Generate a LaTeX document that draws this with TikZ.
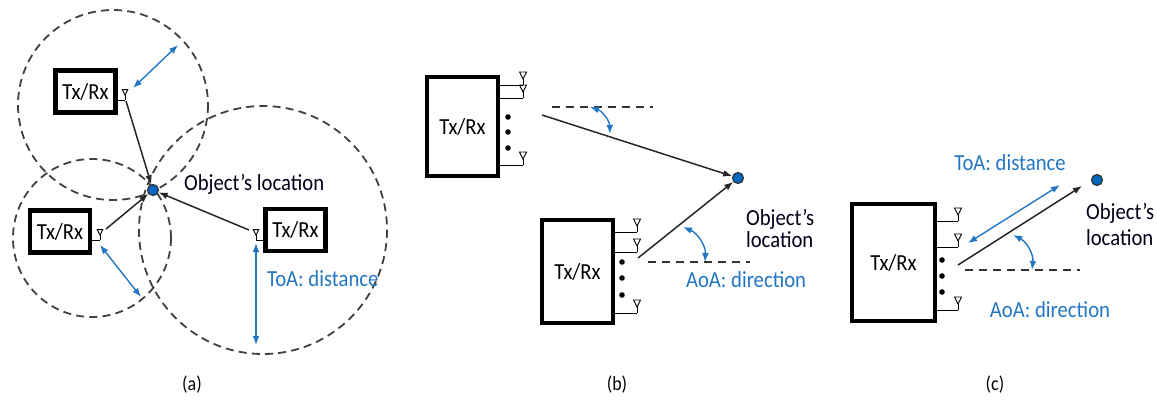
\documentclass[tikz,border=0pt]{standalone}
\usepackage{fontspec}
\setmainfont{Carlito}[FakeStretch=0.9]
\usetikzlibrary{arrows.meta}
\definecolor{locblue}{RGB}{35,118,196}
\definecolor{dotblue}{RGB}{0,104,192}
\tikzset{
  txrx/.style = {draw, line width=2.2pt, inner sep=0pt, font=\fontsize{11.5}{13}\selectfont},
  objdot/.style = {circle, draw=black!80, fill=dotblue, line width=0.6pt, minimum size=5.5pt, inner sep=0pt},
  ring/.style = {draw=black!75, line width=0.9pt, dash pattern=on 4pt off 2.6pt},
  refline/.style = {black!80, line width=0.8pt, dash pattern=on 4pt off 3pt},
  dist/.style = {locblue, line width=0.7pt, <->},
  ray/.style = {black!85, line width=0.75pt, ->},
  bluetext/.style = {text=locblue, font=\fontsize{11.5}{13}\selectfont},
  loctext/.style = {align=left, text=black!90!blue, font=\fontsize{11.5}{13}\selectfont},
  antenna/.pic = {
    \draw [line width=0.5pt] (0,0) -- (0,-6);
    \draw [line width=0.45pt] (-3.5,-13) -- (3.5,-13) -- (0,-6) -- cycle;
  }
}
\begin{document}
\begin{tikzpicture} [x=0.5pt, y=-0.5pt, >={Latex[length=4.5pt,width=3.4pt]}]
\useasboundingbox (0,0) rectangle (1157,408);
% (a) ToA from three stations
\draw [ring] (113,105) circle (95);
\draw [ring] (92,238) circle (79);
\draw [ring] (263,230) circle (124);
\node [txrx, minimum width=30pt, minimum height=21pt] (ta) at (85.5,91.5) {Tx/Rx};
\node [txrx, minimum width=30pt, minimum height=21pt] (la) at (60,231.5) {Tx/Rx};
\node [txrx, minimum width=30pt, minimum height=21pt] (ra) at (295.5,230) {Tx/Rx};
\draw [line width=0.5pt] (ta.east |- 0,100) -- (125,100) pic [scale=0.8] {antenna};
\draw [line width=0.5pt] (la.east |- 0,240) -- (100,240) pic [scale=0.8] {antenna};
\draw [line width=0.5pt] (ra.west |- 0,240) -- (256,240) pic [scale=0.8] {antenna};
\node [objdot] (oa) at (153,190) {};
\node [loctext, anchor=west] (oalab) at (177,184) {Object's location};
\coordinate (ta-ant) at (126,101);
\coordinate (la-ant) at (106,229);
\coordinate (ra-ant) at (249,230);
\draw [ray] (ta-ant) -- (oa);
\draw [ray] (la-ant) -- (oa);
\draw [ray] (ra-ant) -- (oa);
\coordinate (d1a) at (133,88);
\coordinate (d1b) at (178,45);
\coordinate (d2a) at (100,245);
\coordinate (d2b) at (141,297);
\coordinate (d3a) at (256,243);
\coordinate (d3b) at (256,345);
\draw [dist] (d1a) -- (d1b);
\draw [dist] (d2a) -- (d2b);
\draw [dist] (d3a) -- (d3b);
\node [bluetext, anchor=west] (toaa) at (260,279) {ToA: distance};
\node (capa) at (192,385) {(a)};
% (b) AoA from two arrays
\node [txrx, minimum width=35.5pt, minimum height=49.5pt] (tb) at (462.5,126.5) {Tx/Rx};
\node [txrx, minimum width=35.5pt, minimum height=51.5pt] (bb) at (577.5,271.5) {Tx/Rx};
\foreach \y in {85,98,165} {
  \draw [line width=0.5pt] (tb.east |- 0,\y) -- (523,\y) pic {antenna};
}
\foreach \y in {232,252,313} {
  \draw [line width=0.5pt] (bb.east |- 0,\y) -- (637,\y) pic {antenna};
}
\foreach \y in {117,132,148} \fill (508,\y) circle (2.8);
\foreach \y in {262,278,295} \fill (622,\y) circle (2.8);
\node [objdot] (ob) at (738,178) {};
\coordinate (tb-arr) at (542,115);
\coordinate (bb-arr) at (638,258);
\draw [refline] (552,107) -- (653,107);
\draw [refline] (648,262) -- (750,262);
\draw [ray] (tb-arr) -- (ob);
\draw [ray] (bb-arr) -- (ob);
\draw [dist] (590,107) to [bend left=35] (610,134);
\draw [dist] (683,227) to [bend left=35] (705,262);
\node [loctext, anchor=north west] (oblab) at (739,202) {Object's\\[-2pt]location};
\node [bluetext, anchor=west] (aoab) at (679,280) {AoA: direction};
\node (capb) at (617,385) {(b)};
% (c) ToA + AoA from one array
\node [txrx, minimum width=41.5pt, minimum height=58.5pt] (cb) at (893.5,262.5) {Tx/Rx};
\foreach \y in {221,247,310} {
  \draw [line width=0.5pt] (cb.east |- 0,\y) -- (958,\y) pic {antenna};
}
\foreach \y in {260,276,292} \fill (942,\y) circle (2.8);
\node [objdot] (oc) at (1097,180) {};
\coordinate (cb-arr) at (958,265);
\coordinate (cb-tip) at (1082,186);
\draw [refline] (965,270) -- (1080,270);
\draw [ray] (cb-arr) -- (cb-tip);
\draw [dist] (968,243) -- (1060,185);
\draw [dist] (1013,235) to [bend left=35] (1032,270);
\node [bluetext] (toac) at (1010,163) {ToA: distance};
\node [loctext, anchor=north west] (oclab) at (1079,196) {Object's\\location};
\node [bluetext] (aoac) at (1050,310) {AoA: direction};
\node (capc) at (995,385) {(c)};
\end{tikzpicture}
\end{document}
